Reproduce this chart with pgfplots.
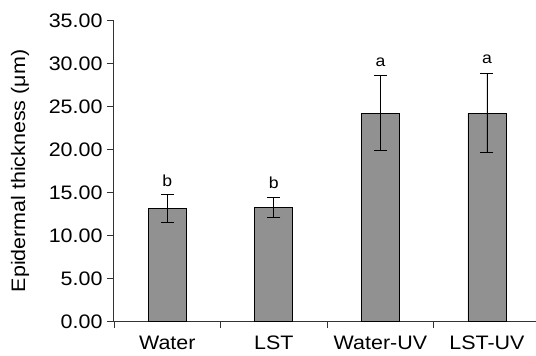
\documentclass[border=0pt]{standalone}
\usepackage{pgfplots}
\pgfplotsset{compat=1.18}
\usepackage{fontspec}
\setmainfont[FakeStretch=1.1]{Liberation Sans}
\definecolor{barfill}{HTML}{919191}
\begin{document}
\begin{tikzpicture}
\begin{axis}[
  at={(0,0)}, anchor=south west,
  scale only axis,
  width=422bp, height=301.4bp,
  xmin=-0.5, xmax=3.46,
  ymin=0, ymax=35,
  axis x line*=bottom, axis y line*=left,
  axis line style={line width=1pt, color=black!80},
  ytick={0,5,...,35},
  yticklabel style={xshift=-1bp, /pgf/number format/.cd, fixed, fixed zerofill, precision=2},
  /pgf/number format/assume math mode=true,
  ytick style={line width=0.8pt, color=black!80},
  major tick length=7bp,
  tick align=outside,
  xtick={0,1,2,3},
  xticklabels={Water,LST,Water-UV,LST-UV},
  xtick style={draw=none},
  extra x ticks={-0.5,0.5,1.5,2.5},
  extra x tick labels={},
  extra x tick style={xtick style={draw=black!80, line width=0.8pt}, major tick length=6bp},
  tick label style={font=\fontsize{19.5bp}{21bp}\selectfont},
  xticklabel style={yshift=-4bp},
  ylabel={Epidermal thickness (μm)},
  ylabel style={font=\fontsize{19.5bp}{21bp}\selectfont, at={(axis description cs:-0.2227,0.5)}, anchor=center},
  clip=false,
]
\addplot[ybar, bar width=38bp, fill=barfill, draw=black, line width=0.9pt,
  error bars/.cd, y dir=both, y explicit,
  error bar style={line width=0.9pt, black},
  error mark options={rotate=90, mark size=6.5bp, line width=0.9pt, black}]
  table[x=x, y=y, y error=e] {
  x y e
  0 13.12 1.6
  1 13.28 1.15
  2 24.2 4.35
  3 24.2 4.6
};
\node[font=\fontsize{16bp}{18bp}\selectfont] at (axis cs:0,16.4) {b};
\node[font=\fontsize{16bp}{18bp}\selectfont] at (axis cs:1,16.1) {b};
\node[font=\fontsize{16bp}{18bp}\selectfont] at (axis cs:2,30.1) {a};
\node[font=\fontsize{16bp}{18bp}\selectfont] at (axis cs:3,30.5) {a};
\end{axis}
\pgfresetboundingbox
\path (-114bp,-34.3bp) rectangle (422bp,321.7bp);
\end{tikzpicture}
\end{document}
